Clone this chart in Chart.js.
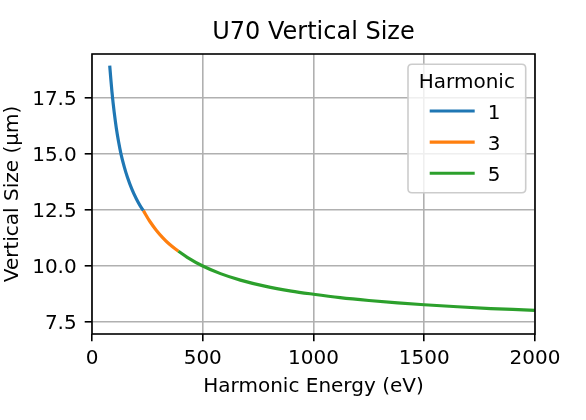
<!DOCTYPE html>
<html>
<head>
<meta charset="utf-8">
<script src="https://cdn.jsdelivr.net/npm/chart.js@4.4.0/dist/chart.umd.min.js"></script>
<style>
  html, body { margin: 0; padding: 0; background: #fff; }
  #wrap { width: 586px; height: 420px; }
</style>
</head>
<body>
<div id="wrap"><canvas id="c" width="586" height="420"></canvas></div>
<script>
// ---- data ----
const chartTitle = 'U70 Vertical Size';
const xTitle = 'Harmonic Energy (eV)';
const yTitle = 'Vertical Size (μm)';
const legendTitle = 'Harmonic';
const harmonicLabels = ['1', '3', '5'];

const h1Energy = [80, 85, 90, 95, 100, 110, 120, 131, 145, 160, 180, 200, 215, 232];
const h1Size   = [18.95, 18.34, 17.79, 17.31, 16.88, 16.14, 15.55, 15.0, 14.45, 13.96, 13.43, 13.0, 12.73, 12.47];

const h3Energy = [232, 260, 290, 320, 350, 390];
const h3Size   = [12.47, 12.01, 11.6, 11.26, 10.97, 10.66];

const h5Energy = [390, 430, 500, 580, 670, 780, 900, 1000, 1120, 1250, 1380, 1500, 1650, 1800, 1900, 2000];
const h5Size   = [10.66, 10.39, 10.0, 9.66, 9.37, 9.1, 8.88, 8.74, 8.59, 8.46, 8.35, 8.27, 8.18, 8.1, 8.06, 8.02];

const xTickValues = [0, 500, 1000, 1500, 2000];
const xTickLabels = ['0', '500', '1000', '1500', '2000'];
const yTickValues = [7.5, 10.0, 12.5, 15.0, 17.5];
const yTickLabels = ['7.5', '10.0', '12.5', '15.0', '17.5'];
const xRange = [0, 2000];
const yRange = [6.964, 19.467];

// ---- styles ----
const seriesColors = ['#1f77b4', '#ff7f0e', '#2ca02c'];
const FONT = 'DejaVu Sans';

function pts(xs, ys) { return xs.map((x, i) => ({ x: x, y: ys[i] })); }
const seriesData = [pts(h1Energy, h1Size), pts(h3Energy, h3Size), pts(h5Energy, h5Size)];

Chart.defaults.font.family = FONT;
Chart.defaults.color = '#000';

const framePlugin = {
  id: 'frame',
  afterDatasetsDraw(chart) {
    const { ctx, chartArea: a } = chart;
    ctx.save();
    ctx.strokeStyle = '#000';
    ctx.lineWidth = 1.6;
    ctx.strokeRect(a.left, a.top, a.right - a.left, a.bottom - a.top);
    ctx.restore();
  }
};

const legendPlugin = {
  id: 'mplLegend',
  afterDraw(chart) {
    const { ctx, chartArea: a } = chart;
    const bx = a.right - 127, by = a.top + 10.3, bw = 117.7, bh = 128.4, r = 4;
    ctx.save();
    ctx.beginPath();
    ctx.moveTo(bx + r, by);
    ctx.lineTo(bx + bw - r, by);
    ctx.quadraticCurveTo(bx + bw, by, bx + bw, by + r);
    ctx.lineTo(bx + bw, by + bh - r);
    ctx.quadraticCurveTo(bx + bw, by + bh, bx + bw - r, by + bh);
    ctx.lineTo(bx + r, by + bh);
    ctx.quadraticCurveTo(bx, by + bh, bx, by + bh - r);
    ctx.lineTo(bx, by + r);
    ctx.quadraticCurveTo(bx, by, bx + r, by);
    ctx.closePath();
    ctx.fillStyle = 'rgba(255,255,255,0.8)';
    ctx.fill();
    ctx.strokeStyle = '#cccccc';
    ctx.lineWidth = 1.6;
    ctx.stroke();

    ctx.fillStyle = '#000';
    ctx.font = '20px "' + FONT + '"';
    ctx.textAlign = 'center';
    ctx.textBaseline = 'alphabetic';
    ctx.fillText(legendTitle, bx + bw / 2, by + 23.4);

    ctx.textAlign = 'left';
    harmonicLabels.forEach((lab, i) => {
      const y = by + 46.7 + i * 31.1;
      ctx.strokeStyle = seriesColors[i];
      ctx.lineWidth = 3.1;
      ctx.beginPath();
      ctx.moveTo(bx + 21.7, y);
      ctx.lineTo(bx + 66.7, y);
      ctx.stroke();
      ctx.fillText(lab, bx + 79.7, y + 8.2);
    });
    ctx.restore();
  }
};

new Chart(document.getElementById('c'), {
  type: 'line',
  data: {
    datasets: harmonicLabels.map((lab, i) => ({
      label: lab,
      data: seriesData[i],
      borderColor: seriesColors[i],
      backgroundColor: seriesColors[i],
      borderWidth: 3.2,
      pointRadius: 0,
      fill: false,
      cubicInterpolationMode: 'monotone',
      borderCapStyle: 'butt',
      order: harmonicLabels.length - i
    }))
  },
  options: {
    responsive: false,
    animation: false,
    layout: { padding: { left: 0, right: 51, top: 0, bottom: 0 } },
    plugins: {
      legend: { display: false },
      tooltip: { enabled: false },
      title: {
        display: true,
        text: chartTitle,
        fullSize: false,
        font: { size: 24, weight: 'normal', family: FONT },
        color: '#000',
        padding: { top: 18.5, bottom: 6.7 }
      }
    },
    scales: {
      x: {
        type: 'linear',
        min: xRange[0],
        max: xRange[1],
        afterBuildTicks(scale) { scale.ticks = xTickValues.map(v => ({ value: v })); },
        afterFit(scale) { scale.height = 86; },
        ticks: {
          autoSkip: false,
          maxRotation: 0,
          font: { size: 20, family: FONT },
          color: '#000',
          padding: 5.3,
          callback: (v, i) => xTickLabels[i]
        },
        grid: {
          color: '#b0b0b0',
          lineWidth: 1.6,
          drawTicks: true,
          tickLength: 7.3,
          tickColor: '#000',
          tickWidth: 1.6
        },
        border: { display: false },
        title: {
          display: true,
          text: xTitle,
          font: { size: 20, family: FONT },
          color: '#000',
          padding: { top: 0, bottom: 21.2 }
        }
      },
      y: {
        type: 'linear',
        min: yRange[0],
        max: yRange[1],
        afterBuildTicks(scale) { scale.ticks = yTickValues.map(v => ({ value: v })); },
        afterFit(scale) { scale.width = 92; },
        ticks: {
          autoSkip: false,
          font: { size: 20, family: FONT },
          color: '#000',
          padding: 8,
          labelOffset: 1.9,
          callback: (v, i) => yTickLabels[i]
        },
        grid: {
          color: '#b0b0b0',
          lineWidth: 1.6,
          drawTicks: true,
          tickLength: 7.3,
          tickColor: '#000',
          tickWidth: 1.6
        },
        border: { display: false },
        title: {
          display: true,
          text: yTitle,
          font: { size: 20, family: FONT },
          color: '#000',
          padding: { top: 0.4, bottom: 0 }
        }
      }
    }
  },
  plugins: [framePlugin, legendPlugin]
});
</script>
</body>
</html>
